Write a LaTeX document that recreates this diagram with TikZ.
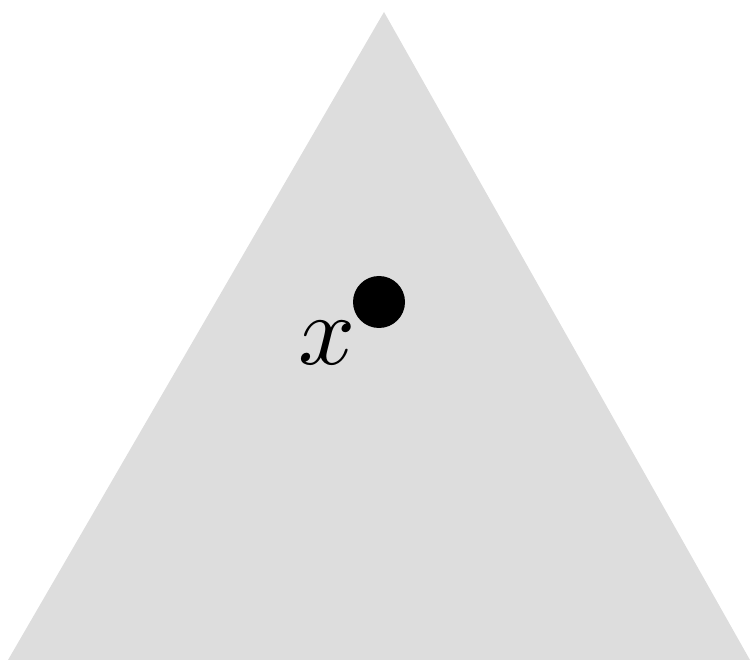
\documentclass[tikz,border=0pt]{standalone}
\usepackage{xcolor}
\definecolor{trigray}{HTML}{DDDDDD}
\begin{document}
\begin{tikzpicture}[x=1pt,y=-1pt,
  dotstyle/.style={circle,fill=black,inner sep=0pt,minimum size=52pt},
  labelstyle/.style={inner sep=0pt,scale=10}]
\useasboundingbox (0,0) rectangle (750,660);
\coordinate (top) at (384,12);
\coordinate (bl) at (8,660);
\coordinate (br) at (750,660);
\fill[trigray] (top) -- (bl) -- (br) -- cycle;
\node[dotstyle] (pt) at (379,302) {};
\node[labelstyle] (lab) at (327,343) {$x$};
\end{tikzpicture}
\end{document}
